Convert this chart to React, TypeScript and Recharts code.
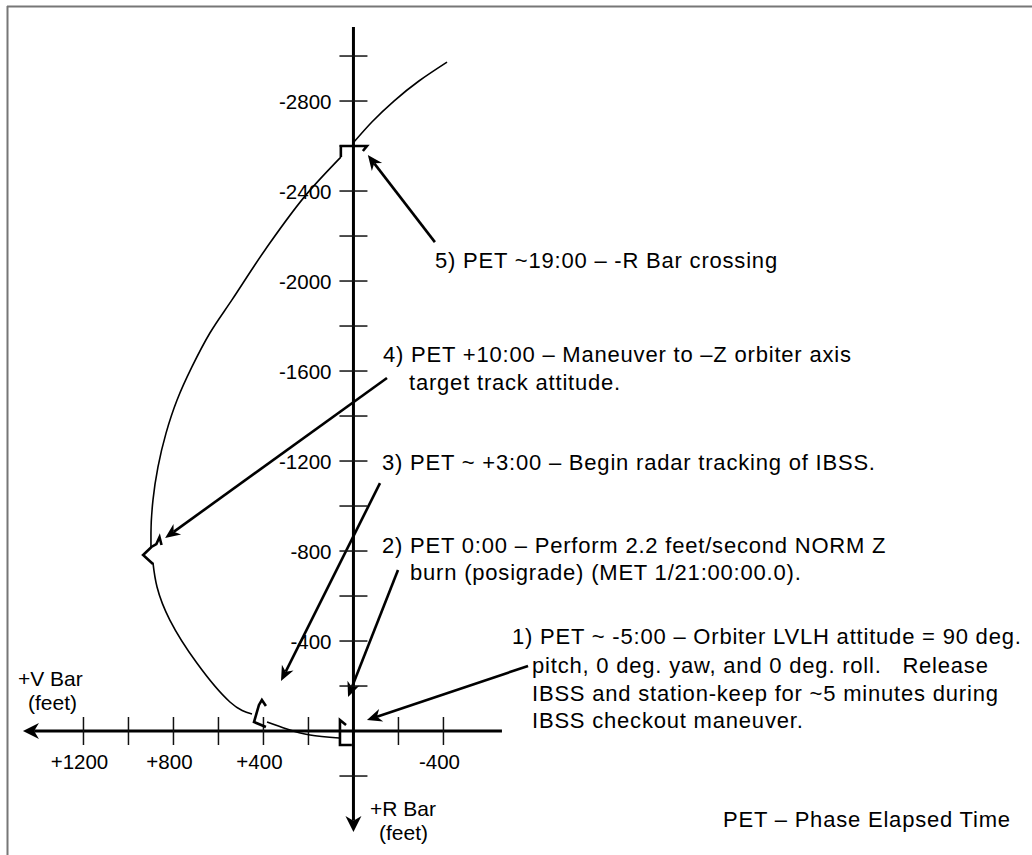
import React from "react";
import { ScatterChart, Scatter, XAxis, YAxis, ReferenceLine, ReferenceDot } from "recharts";

const W = 1032;
const H = 855;
const ink = "#000";
const font = "'Liberation Sans', Arial, Helvetica, sans-serif";

// IBSS trajectory relative to orbiter, feet (x = +V Bar, y = +R Bar)
const approachLeg = [
  { x: 64, y: 31 },
  { x: 193, y: 18 },
  { x: 296, y: -9 },
  { x: 384, y: -40 },
];
const burnLeg = [
  { x: 451, y: -76 },
  { x: 549, y: -129 },
  { x: 696, y: -302 },
  { x: 816, y: -493 },
  { x: 873, y: -640 },
  { x: 891, y: -747 },
];
const trackLeg = [
  { x: 900, y: -818 },
  { x: 900, y: -880 },
  { x: 891, y: -1027 },
  { x: 869, y: -1173 },
  { x: 833, y: -1324 },
  { x: 784, y: -1471 },
  { x: 718, y: -1618 },
  { x: 638, y: -1769 },
  { x: 540, y: -1916 },
  { x: 393, y: -2138 },
  { x: 193, y: -2404 },
  { x: 56, y: -2551 },
];
const departLeg = [
  { x: 2, y: -2613 },
  { x: -82, y: -2707 },
  { x: -180, y: -2800 },
  { x: -291, y: -2889 },
  { x: -416, y: -2973 },
];

// orbiter attitude glyphs at the event points
const glyphOrigin = [
  { x: 33, y: -27 },
  { x: 60, y: -49 },
  { x: 60, y: 62 },
  { x: 7, y: 62 },
];
const glyph400 = [
  { x: 389, y: -18 },
  { x: 442, y: -40 },
  { x: 420, y: -116 },
  { x: 407, y: -138 },
  { x: 389, y: -111 },
];
const glyphLeft = [
  { x: 891, y: -742 },
  { x: 935, y: -782 },
  { x: 898, y: -818 },
  { x: 876, y: -831 },
  { x: 862, y: -862 },
  { x: 853, y: -827 },
];
const glyphTop = [
  { x: 56, y: -2551 },
  { x: 56, y: -2600 },
  { x: -60, y: -2600 },
  { x: -42, y: -2578 },
];

// callout arrows, tail -> head
const calloutArrows = [
  { from: { x: -362, y: -2173 }, to: { x: -64, y: -2560 } },
  { from: { x: -149, y: -1569 }, to: { x: 837, y: -858 } },
  { from: { x: -118, y: -1102 }, to: { x: 322, y: -222 } },
  { from: { x: -198, y: -716 }, to: { x: 24, y: -151 } },
  { from: { x: -776, y: -289 }, to: { x: -60, y: -49 } },
];

const xMajorTicks = [1200, 800, 400, -400];
const xMinorTicks = [1000, 600, 200, -200];
const yMajorTicks = [-400, -800, -1200, -1600, -2000, -2400, -2800];
const yMinorTicks = [200, -200, -600, -1000, -1400, -1800, -2200, -2600, -3000];

const vBarAxis = [{ x: -660, y: 0 }, { x: 1469, y: 0 }];
const rBarAxis = [{ x: 0, y: -3129 }, { x: 0, y: 449 }];

const fmtX = (v: number) => (v > 0 ? `+${v}` : `${v}`);

const NoDot = () => <g />;

function arrowShape(len: number, half: number, width: number) {
  return (p: any) => {
    const { x1, y1, x2, y2 } = p;
    const dx = x2 - x1;
    const dy = y2 - y1;
    const d = Math.hypot(dx, dy) || 1;
    const ux = dx / d;
    const uy = dy / d;
    const bx = x2 - ux * len;
    const by = y2 - uy * len;
    const nx = x2 - ux * len * 0.7;
    const ny = y2 - uy * len * 0.7;
    const pts = [
      [x2, y2],
      [bx - uy * half, by + ux * half],
      [nx, ny],
      [bx + uy * half, by - ux * half],
    ]
      .map((q) => q.join(","))
      .join(" ");
    return (
      <g>
        <line x1={x1} y1={y1} x2={nx} y2={ny} stroke={ink} strokeWidth={width} />
        <polygon points={pts} fill={ink} />
      </g>
    );
  };
}

const xTick = (label?: string) => (p: any) => (
  <g>
    <line x1={p.cx} x2={p.cx} y1={p.cy - 14} y2={p.cy + 14} stroke="#111" strokeWidth={1.5} />
    {label && (
      <text x={p.cx - 4} y={p.cy + 38} textAnchor="middle" fontSize={20.5} fontFamily={font} fill={ink}>
        {label}
      </text>
    )}
  </g>
);

const yTick = (label?: string) => (p: any) => (
  <g>
    <line x1={p.cx - 14} x2={p.cx + 14} y1={p.cy} y2={p.cy} stroke="#111" strokeWidth={1.5} />
    {label && (
      <text x={p.cx - 22} y={p.cy + 7.5} textAnchor="end" fontSize={20.5} fontFamily={font} fill={ink}>
        {label}
      </text>
    )}
  </g>
);

const noteStyle = { fontSize: 22, letterSpacing: 0.8 };

export default function App() {
  return (
    <div style={{ position: "absolute", left: 0, top: 0, width: W, height: H, background: "#fff" }}>
      <ScatterChart width={W} height={H} margin={{ top: 0, right: 0, bottom: 0, left: 0 }}>
        <XAxis
          type="number"
          dataKey="x"
          domain={[-3016, 1571]}
          reversed
          allowDataOverflow
          hide
          height={0}
        />
        <YAxis
          type="number"
          dataKey="y"
          domain={[-3249, 551]}
          reversed
          allowDataOverflow
          hide
          width={0}
        />

        <ReferenceLine segment={vBarAxis} shape={arrowShape(16, 8, 3)} />
        <ReferenceLine segment={rBarAxis} shape={arrowShape(16, 8, 3)} />

        {xMinorTicks.map((v) => (
          <ReferenceDot key={`xm${v}`} x={v} y={0} r={0} shape={xTick()} />
        ))}
        {xMajorTicks.map((v) => (
          <ReferenceDot key={`xM${v}`} x={v} y={0} r={0} shape={xTick(fmtX(v))} />
        ))}
        {yMinorTicks.map((v) => (
          <ReferenceDot key={`ym${v}`} x={0} y={v} r={0} shape={yTick()} />
        ))}
        {yMajorTicks.map((v) => (
          <ReferenceDot key={`yM${v}`} x={0} y={v} r={0} shape={yTick(`${v}`)} />
        ))}

        {[approachLeg, burnLeg, trackLeg, departLeg].map((leg, i) => (
          <Scatter
            key={`leg${i}`}
            data={leg}
            line={{ stroke: ink, strokeWidth: 1.6 }}
            lineJointType={i === 2 ? "monotoneY" : "natural"}
            shape={NoDot}
            isAnimationActive={false}
          />
        ))}
        {[glyphOrigin, glyph400, glyphLeft, glyphTop].map((g, i) => (
          <Scatter
            key={`glyph${i}`}
            data={g}
            line={{ stroke: ink, strokeWidth: 2.6, strokeLinejoin: "miter" }}
            lineJointType="linear"
            shape={NoDot}
            isAnimationActive={false}
          />
        ))}

        {calloutArrows.map((a, i) => (
          <ReferenceLine key={`arr${i}`} segment={[a.from, a.to]} shape={arrowShape(15, 6.5, 2.6)} />
        ))}
      </ScatterChart>

      <svg
        width={W}
        height={H}
        style={{ position: "absolute", left: 0, top: 0, pointerEvents: "none" }}
        fontFamily={font}
        fill={ink}
      >
        <line x1={7} y1={6.5} x2={W} y2={6.5} stroke="#777" strokeWidth={2} />
        <line x1={7.5} y1={6} x2={7.5} y2={H} stroke="#777" strokeWidth={2} />

        <g fontSize={21}>
          <text x={18} y={686}>+V Bar</text>
          <text x={28} y={710}>(feet)</text>
          <text x={370} y={816}>+R Bar</text>
          <text x={379} y={840}>(feet)</text>
        </g>

        <g style={noteStyle}>
          <text x={435} y={268}>5) PET ~19:00 – -R Bar crossing</text>
          <text x={383} y={362}>4) PET +10:00 – Maneuver to –Z orbiter axis</text>
          <text x={409} y={390}>target track attitude.</text>
          <text x={382} y={470}>3) PET ~ +3:00 – Begin radar tracking of IBSS.</text>
          <text x={382} y={553}>2) PET 0:00 – Perform 2.2 feet/second NORM Z</text>
          <text x={410} y={580}>burn (posigrade) (MET 1/21:00:00.0).</text>
          <text x={512} y={644}>1) PET ~ -5:00 – Orbiter LVLH attitude = 90 deg.</text>
          <text x={532} y={673} xmlSpace="preserve">pitch, 0 deg. yaw, and 0 deg. roll.   Release</text>
          <text x={532} y={701}>IBSS and station-keep for ~5 minutes during</text>
          <text x={532} y={728}>IBSS checkout maneuver.</text>
          <text x={723} y={827}>PET – Phase Elapsed Time</text>
        </g>
      </svg>
    </div>
  );
}
